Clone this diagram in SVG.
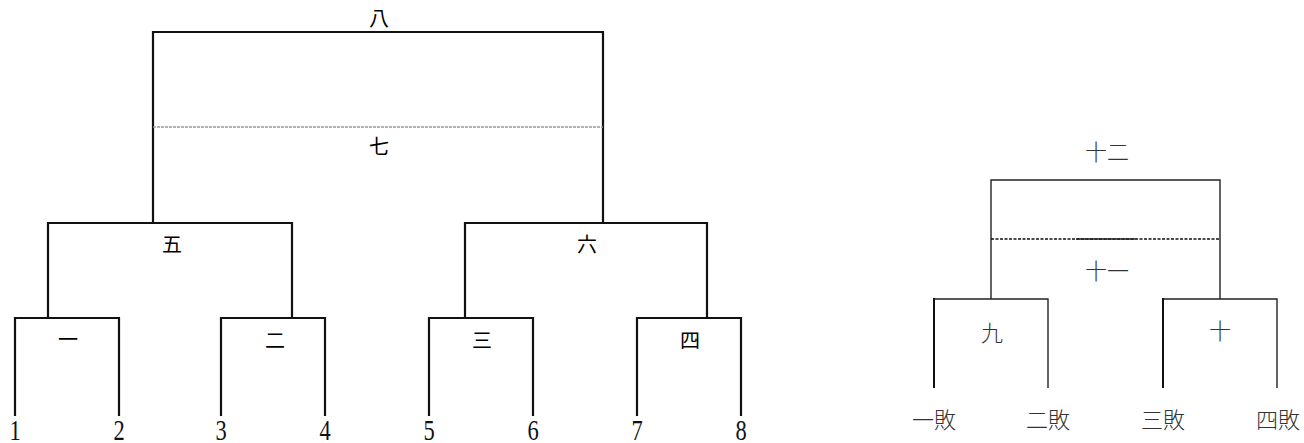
<svg xmlns="http://www.w3.org/2000/svg" width="1304" height="443" viewBox="0 0 1304 443">
<style>
.bg{fill:#fff}
.l{stroke:#111;stroke-width:2.2;fill:none;stroke-linecap:square}
.r{stroke:#222;stroke-width:1.4;fill:none}
.rb{stroke:#111;stroke-width:2;fill:none}
.gd{stroke:#999;stroke-width:1.6;stroke-dasharray:3 1;fill:none}
.bd{stroke:#111;stroke-width:1.3;stroke-dasharray:3 1.5;fill:none}
.cj{font-family:"Noto Sans CJK JP","Noto Sans CJK SC",sans-serif;font-size:20px;fill:#000;text-anchor:middle}
.cr{font-family:"Noto Sans CJK JP","Noto Sans CJK SC",sans-serif;font-size:22px;fill:#333;text-anchor:middle;font-weight:300}
.num{font-family:"Liberation Serif",serif;font-size:30px;fill:#111;text-anchor:middle}
</style>
<rect class="bg" x="0" y="0" width="1304" height="443"/>
<g id="connectors">
  <path class="l" d="M153 223 V32 H603 V223"/>
  <line class="gd" x1="153" y1="127" x2="603" y2="127"/>
  <path class="l" d="M48 318 V223 H292 V318"/>
  <path class="l" d="M465 318 V223 H707 V318"/>
  <path class="l" d="M15 415 V318 H119 V415"/>
  <path class="l" d="M221 415 V318 H325 V415"/>
  <path class="l" d="M429 415 V318 H533 V415"/>
  <path class="l" d="M637 415 V318 H741 V415"/>
  <path class="r" d="M991 299 V180 H1220 V299"/>
  <line class="bd" x1="991" y1="239" x2="1220" y2="239"/>
  <line class="r" x1="1076" y1="239" x2="1135" y2="239"/>
  <path class="r" d="M934 299 H1048 V388"/>
  <line class="rb" x1="934" y1="298" x2="934" y2="388"/>
  <path class="r" d="M1163 299 H1277 V388"/>
  <line class="rb" x1="1163" y1="298" x2="1163" y2="388"/>
</g>
<g id="node-8"><text class="cj" x="379" y="26">八</text></g>
<g id="node-7"><text class="cj" x="379" y="154">七</text></g>
<g id="node-5"><text class="cj" x="172" y="252">五</text></g>
<g id="node-6"><text class="cj" x="587" y="252">六</text></g>
<g id="node-1"><text class="cj" x="68" y="347">一</text></g>
<g id="node-2"><text class="cj" x="275" y="348">二</text></g>
<g id="node-3"><text class="cj" x="482" y="348">三</text></g>
<g id="node-4"><text class="cj" x="690" y="348">四</text></g>
<g id="seeds">
  <g transform="translate(15 440) scale(0.75 1)"><text class="num">1</text></g>
  <g transform="translate(119 440) scale(0.75 1)"><text class="num">2</text></g>
  <g transform="translate(221 440) scale(0.75 1)"><text class="num">3</text></g>
  <g transform="translate(325 440) scale(0.75 1)"><text class="num">4</text></g>
  <g transform="translate(429 440) scale(0.75 1)"><text class="num">5</text></g>
  <g transform="translate(533 440) scale(0.75 1)"><text class="num">6</text></g>
  <g transform="translate(637 440) scale(0.75 1)"><text class="num">7</text></g>
  <g transform="translate(741 440) scale(0.75 1)"><text class="num">8</text></g>
</g>
<g id="node-12"><text class="cr" x="1107" y="160">十二</text></g>
<g id="node-11"><text class="cr" x="1107" y="279">十一</text></g>
<g id="node-9"><text class="cr" x="992" y="341">九</text></g>
<g id="node-10"><text class="cr" x="1220" y="339">十</text></g>
<g id="losers">
  <text class="cr" x="934" y="428">一敗</text>
  <text class="cr" x="1048" y="428">二敗</text>
  <text class="cr" x="1163" y="428">三敗</text>
  <text class="cr" x="1278" y="428">四敗</text>
</g>
</svg>
